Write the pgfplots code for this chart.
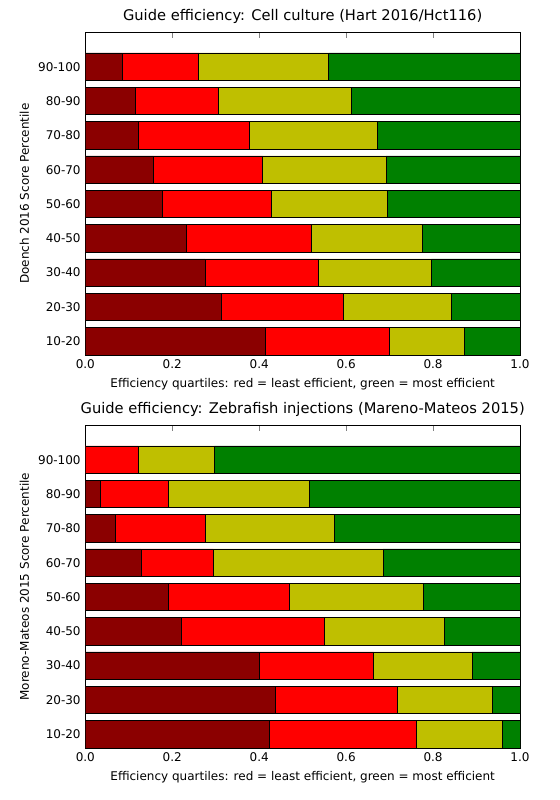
\documentclass[border=0pt]{standalone}
\usepackage{pgfplots}
\pgfplotsset{compat=1.18}
\usepackage{fontspec}
\setmainfont{DejaVu Sans}
\definecolor{dred}{RGB}{139,0,0}
\definecolor{myel}{RGB}{191,191,0}
\definecolor{mgreen}{RGB}{0,128,0}
\pgfplotsset{
 myax/.style={
  width=326pt,height=242pt,scale only axis,
  xbar stacked, bar width=0.8,
  xmin=0,xmax=1,ymin=-0.4,ymax=9,
  ytick={0,...,8},
  yticklabels={10-20,20-30,30-40,40-50,50-60,60-70,70-80,80-90,90-100},
  xtick={0,0.2,0.4,0.6,0.8,1.0},
  xticklabels={0.0,0.2,0.4,0.6,0.8,1.0},
  tick align=inside, tick pos=both,
  major tick length=4pt,
  ticklabel style={font=\fontsize{9}{10}\selectfont},
  label style={font=\fontsize{9}{10}\selectfont},
  title style={font=\fontsize{11}{12}\selectfont, yshift=-3pt},
  xlabel={Efficiency quartiles: red = least efficient, green = most efficient},
  every axis plot/.append style={draw=black, line width=0.5pt},
  axis line style={line width=0.6pt},
  /pgf/number format/assume math mode=true,
 }}
\begin{document}
\begin{tikzpicture}
\path[use as bounding box] (-64pt,-39pt) rectangle (356pt,561pt);
\begin{axis}[myax, at={(0,294.75pt)}, anchor=south west,
  title={Guide efficiency: Cell culture (Hart 2016/Hct116)},
  ylabel={Doench 2016 Score Percentile}]
\addplot[fill=dred] coordinates {(.415,0)(.313,1)(.275,2)(.232,3)(.177,4)(.156,5)(.122,6)(.115,7)(.085,8)};
\addplot[fill=red] coordinates {(.285,0)(.281,1)(.262,2)(.289,3)(.252,4)(.252,5)(.256,6)(.192,7)(.176,8)};
\addplot[fill=myel] coordinates {(.172,0)(.248,1)(.259,2)(.254,3)(.266,4)(.284,5)(.293,6)(.305,7)(.299,8)};
\addplot[fill=mgreen] coordinates {(.128,0)(.158,1)(.204,2)(.225,3)(.305,4)(.308,5)(.329,6)(.388,7)(.440,8)};
\end{axis}
\begin{axis}[myax, at={(0,0)}, anchor=south west,
  title={Guide efficiency: Zebrafish injections (Mareno-Mateos 2015)},
  ylabel={Moreno-Mateos 2015 Score Percentile}]
\addplot[fill=dred] coordinates {(.423,0)(.436,1)(.401,2)(.222,3)(.190,4)(.128,5)(.069,6)(.034,7)(0,8)};
\addplot[fill=red] coordinates {(.338,0)(.282,1)(.262,2)(.328,3)(.280,4)(.166,5)(.206,6)(.156,7)(.122,8)};
\addplot[fill=myel] coordinates {(.198,0)(.218,1)(.227,2)(.276,3)(.308,4)(.391,5)(.298,6)(.326,7)(.175,8)};
\addplot[fill=mgreen] coordinates {(.041,0)(.064,1)(.110,2)(.174,3)(.222,4)(.315,5)(.427,6)(.484,7)(.703,8)};
\end{axis}
\end{tikzpicture}
\end{document}
